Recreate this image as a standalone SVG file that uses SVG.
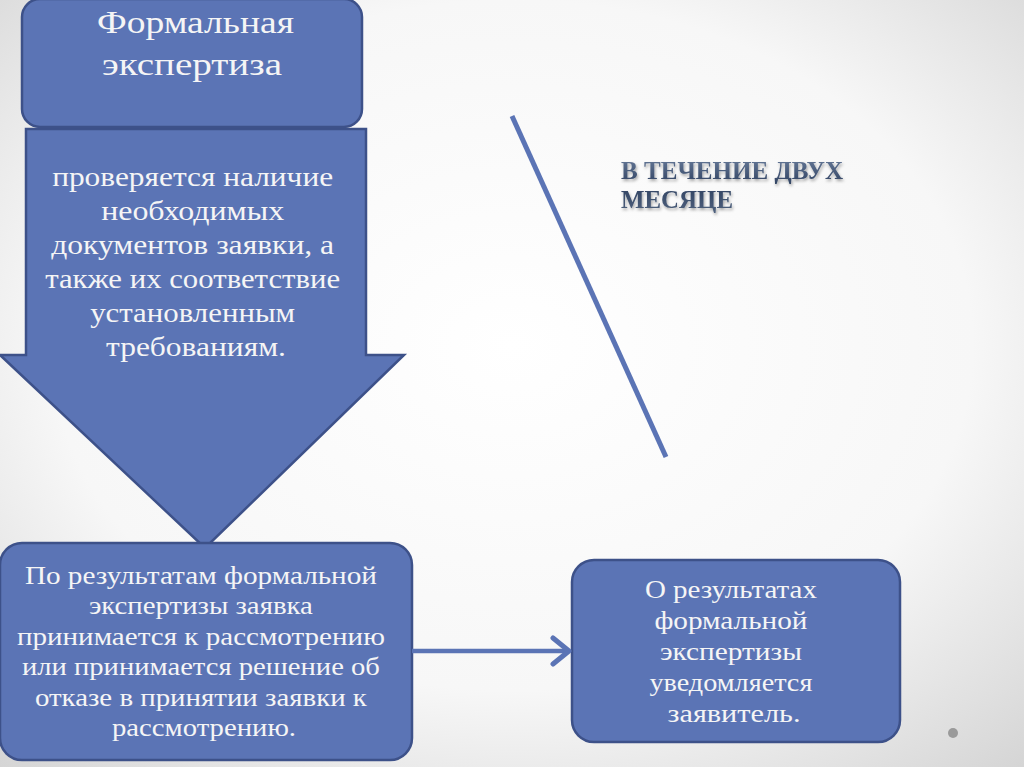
<svg xmlns="http://www.w3.org/2000/svg" width="1024" height="767" viewBox="0 0 1024 767">
<defs>
<radialGradient id="bg" cx="0.5" cy="0.45" r="0.75">
<stop offset="0" stop-color="#ffffff"/>
<stop offset="0.6" stop-color="#f7f7f7"/>
<stop offset="1" stop-color="#d4d4d4"/>
</radialGradient>
<linearGradient id="tg" x1="0" y1="0" x2="0" y2="1">
<stop offset="0" stop-color="#6a7d9c"/>
<stop offset="0.5" stop-color="#2f4160"/>
<stop offset="1" stop-color="#51637f"/>
</linearGradient>
<filter id="sh" x="-10%" y="-30%" width="120%" height="180%">
<feGaussianBlur in="SourceAlpha" stdDeviation="1.5"/>
<feOffset dx="1" dy="2" result="b"/>
<feFlood flood-color="#000" flood-opacity="0.35"/>
<feComposite in2="b" operator="in"/>
<feMerge><feMergeNode/><feMergeNode in="SourceGraphic"/></feMerge>
</filter>
<marker id="chev" viewBox="0 0 22 32" refX="19" refY="16" markerWidth="22" markerHeight="32" markerUnits="userSpaceOnUse" orient="auto">
<path d="M3,3 L19,16 L3,29" fill="none" stroke="#5b74b5" stroke-width="5" stroke-linecap="round" stroke-linejoin="round"/>
</marker>
</defs>
<style>
.box{fill:#5b74b5;stroke:#3d5189;stroke-width:2.5}
.t{font-family:"Liberation Serif","DejaVu Serif",serif;fill:#f5f5f5;text-anchor:middle}
.conn{stroke:#5b74b5;fill:none}
</style>
<rect width="1024" height="767" fill="url(#bg)"/>

<g id="node-arrow">
<path class="box" d="M26,129 L366,129 L366,355 L404,355 L205,548 L0,355 L26,355 Z"/>
<text class="t" font-size="27">
<tspan x="196" y="186" textLength="281" lengthAdjust="spacingAndGlyphs">проверяется наличие</tspan>
<tspan x="196" y="220" textLength="183" lengthAdjust="spacingAndGlyphs">необходимых</tspan>
<tspan x="196" y="254" textLength="283" lengthAdjust="spacingAndGlyphs">документов заявки, а</tspan>
<tspan x="196" y="288" textLength="295" lengthAdjust="spacingAndGlyphs">также их соответствие</tspan>
<tspan x="196" y="322" textLength="205" lengthAdjust="spacingAndGlyphs">установленным</tspan>
<tspan x="196" y="356" textLength="180" lengthAdjust="spacingAndGlyphs">требованиям.</tspan>
</text>
</g>

<g id="node-title">
<rect class="box" x="22" y="-1" width="340" height="128" rx="18"/>
<text class="t" font-size="31" style="text-anchor:start">
<tspan x="97" y="33" textLength="197" lengthAdjust="spacingAndGlyphs">Формальная</tspan>
<tspan x="102" y="75" textLength="180" lengthAdjust="spacingAndGlyphs">экспертиза</tspan>
</text>
</g>

<g id="node-result">
<rect class="box" x="0" y="543" width="412" height="217" rx="22"/>
<text class="t" font-size="25">
<tspan x="204" y="584" textLength="352" lengthAdjust="spacingAndGlyphs">По результатам формальной</tspan>
<tspan x="204" y="614" textLength="224" lengthAdjust="spacingAndGlyphs">экспертизы заявка</tspan>
<tspan x="204" y="645" textLength="368" lengthAdjust="spacingAndGlyphs">принимается к рассмотрению</tspan>
<tspan x="204" y="675" textLength="358" lengthAdjust="spacingAndGlyphs">или принимается решение об</tspan>
<tspan x="204" y="706" textLength="332" lengthAdjust="spacingAndGlyphs">отказе в принятии заявки к</tspan>
<tspan x="204" y="736" textLength="184" lengthAdjust="spacingAndGlyphs">рассмотрению.</tspan>
</text>
</g>

<g id="node-notify">
<rect class="box" x="572" y="560" width="328" height="182" rx="22"/>
<text class="t" font-size="25">
<tspan x="734" y="598" textLength="172" lengthAdjust="spacingAndGlyphs">О результатах</tspan>
<tspan x="734" y="629" textLength="153" lengthAdjust="spacingAndGlyphs">формальной</tspan>
<tspan x="734" y="660" textLength="142" lengthAdjust="spacingAndGlyphs">экспертизы</tspan>
<tspan x="734" y="691" textLength="163" lengthAdjust="spacingAndGlyphs">уведомляется</tspan>
<tspan x="734" y="722" textLength="133" lengthAdjust="spacingAndGlyphs">заявитель.</tspan>
</text>
</g>

<g id="node-term" filter="url(#sh)">
<text font-family="Liberation Serif, DejaVu Serif, serif" font-weight="bold" font-size="26" fill="url(#tg)">
<tspan x="621" y="179" textLength="222" lengthAdjust="spacingAndGlyphs">В ТЕЧЕНИЕ ДВУХ</tspan>
<tspan x="621" y="208" textLength="112" lengthAdjust="spacingAndGlyphs">МЕСЯЦЕ</tspan>
</text>
</g>

<g id="connectors">
<line class="conn" x1="412" y1="651" x2="569" y2="651" stroke-width="4.5" marker-end="url(#chev)"/>
<line class="conn" x1="512" y1="116" x2="666" y2="457" stroke-width="5"/>
</g>

<circle cx="953" cy="733" r="5" fill="#9a9a9a"/>
</svg>
